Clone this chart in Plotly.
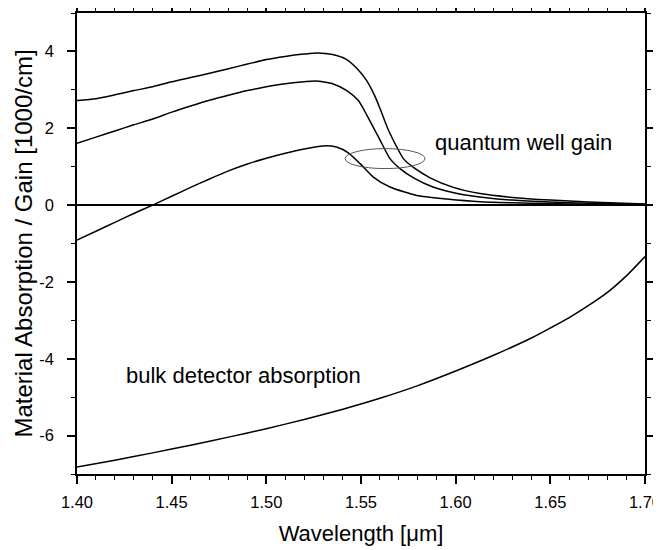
import plotly.graph_objects as go

# Wavelength [um] / gain [1000/cm]
wl_a = [1.40, 1.41, 1.42, 1.43, 1.44, 1.45, 1.46, 1.47, 1.48, 1.49, 1.50, 1.51, 1.52, 1.527, 1.535,
        1.542, 1.548, 1.553, 1.5574, 1.560, 1.5644, 1.5724, 1.5777, 1.5865, 1.5988, 1.6129, 1.63,
        1.65, 1.67, 1.70]
gain_a = [2.72, 2.77, 2.87, 2.98, 3.08, 3.21, 3.32, 3.43, 3.55, 3.67, 3.79, 3.87, 3.93, 3.96, 3.92,
          3.80, 3.55, 3.24, 2.83, 2.52, 1.96, 1.21, 0.98, 0.71, 0.46, 0.30, 0.20, 0.13, 0.08, 0.03]

wl_b = [1.40, 1.41, 1.42, 1.43, 1.44, 1.45, 1.46, 1.47, 1.48, 1.49, 1.50, 1.51, 1.52, 1.526, 1.535,
        1.5425, 1.5486, 1.553, 1.5574, 1.560, 1.5653, 1.5706, 1.578, 1.588, 1.602, 1.615, 1.63,
        1.65, 1.67, 1.70]
gain_b = [1.61, 1.77, 1.93, 2.09, 2.24, 2.42, 2.58, 2.73, 2.86, 2.98, 3.08, 3.16, 3.21, 3.23, 3.16,
          2.98, 2.72, 2.35, 1.94, 1.70, 1.21, 0.95, 0.70, 0.47, 0.29, 0.20, 0.13, 0.08, 0.05, 0.02]

wl_c = [1.40, 1.41, 1.42, 1.43, 1.44, 1.45, 1.46, 1.47, 1.48, 1.49, 1.50, 1.51, 1.52, 1.53, 1.537,
        1.5433, 1.5495, 1.5565, 1.5653, 1.5794, 1.5953, 1.6129, 1.63, 1.65, 1.67, 1.70]
gain_c = [-0.91, -0.68, -0.45, -0.22, 0.00, 0.23, 0.46, 0.68, 0.89, 1.07, 1.22, 1.35, 1.46, 1.54, 1.51,
          1.36, 1.08, 0.73, 0.47, 0.25, 0.16, 0.09, 0.06, 0.04, 0.02, 0.01]

wl_bulk = [1.40, 1.42, 1.44, 1.46, 1.48, 1.50, 1.52, 1.54, 1.56, 1.58, 1.60, 1.62, 1.64, 1.65,
           1.66, 1.67, 1.68, 1.69, 1.70]
abs_bulk = [-6.82, -6.64, -6.45, -6.25, -6.04, -5.82, -5.58, -5.32, -5.03, -4.70, -4.32, -3.91,
            -3.46, -3.20, -2.93, -2.62, -2.28, -1.85, -1.34]

y_tickvals = [-6, -4, -2, 0, 2, 4]
y_ticktext = ['-6', '-4', '-2', '0', '2', '4']
x_tickvals = [1.40, 1.45, 1.50, 1.55, 1.60, 1.65, 1.70]
x_ticktext = ['1.40', '1.45', '1.50', '1.55', '1.60', '1.65', '1.70']

label_qw = 'quantum well gain'
label_bulk = 'bulk detector absorption'

# ellipse marking the gain curves (center and half-axes in data units)
ell_cx, ell_cy, ell_rx, ell_ry = 1.5627, 1.21, 0.0211, 0.26

FONT = 'Arial, Liberation Sans, sans-serif'
line_style = dict(color='black', width=1.5, shape='spline', smoothing=0.6)

fig = go.Figure()
for xs, ys in [(wl_a, gain_a), (wl_b, gain_b), (wl_c, gain_c), (wl_bulk, abs_bulk)]:
    fig.add_trace(go.Scatter(x=xs, y=ys, mode='lines', line=line_style,
                             showlegend=False, hoverinfo='skip'))

fig.add_shape(type='circle', xref='x', yref='y',
              x0=ell_cx - ell_rx, x1=ell_cx + ell_rx,
              y0=ell_cy - ell_ry, y1=ell_cy + ell_ry,
              line=dict(color='#555555', width=1))

fig.add_annotation(x=1.588, y=1.64, xref='x', yref='y', text=label_qw, showarrow=False,
                   xanchor='left', yanchor='middle', font=dict(size=22, color='black', family=FONT))
fig.add_annotation(x=1.425, y=-4.44, xref='x', yref='y', text=label_bulk, showarrow=False,
                   xanchor='left', yanchor='middle', font=dict(size=22, color='black', family=FONT))

axis_common = dict(showline=True, linecolor='black', linewidth=1.5, mirror='ticks',
                   ticks='outside', ticklen=8, tickwidth=1.5, tickcolor='black',
                   showgrid=False, automargin=False, ticklabeloverflow='allow',
                   tickfont=dict(size=16.5, color='black', family=FONT))

fig.update_xaxes(range=[1.40, 1.70], tickvals=x_tickvals, ticktext=x_ticktext,
                 minor=dict(dtick=0.01, ticks='outside', ticklen=4, tickwidth=1.2, tickcolor='black'),
                 title=dict(text='Wavelength [μm]', font=dict(size=22, color='black', family=FONT),
                            standoff=16),
                 zeroline=False, ticklabelstandoff=4, **axis_common)
fig.update_yaxes(range=[-7, 5], tickvals=y_tickvals, ticktext=y_ticktext,
                 minor=dict(dtick=1, ticks='outside', ticklen=4, tickwidth=1.2, tickcolor='black'),
                 title=dict(text='Material Absorption / Gain [1000/cm]',
                            font=dict(size=24, color='black', family=FONT), standoff=0),
                 zeroline=True, zerolinecolor='black', zerolinewidth=1.5,
                 ticklabelstandoff=10, **axis_common)

# the page body adds an 8 px offset, so margins are reduced by that much on the left/top
fig.update_layout(width=661, height=550, margin=dict(l=69, r=24, t=5, b=84),
                  plot_bgcolor='white', paper_bgcolor='white',
                  font=dict(family=FONT, color='black'))

fig.write_html('out.html')
